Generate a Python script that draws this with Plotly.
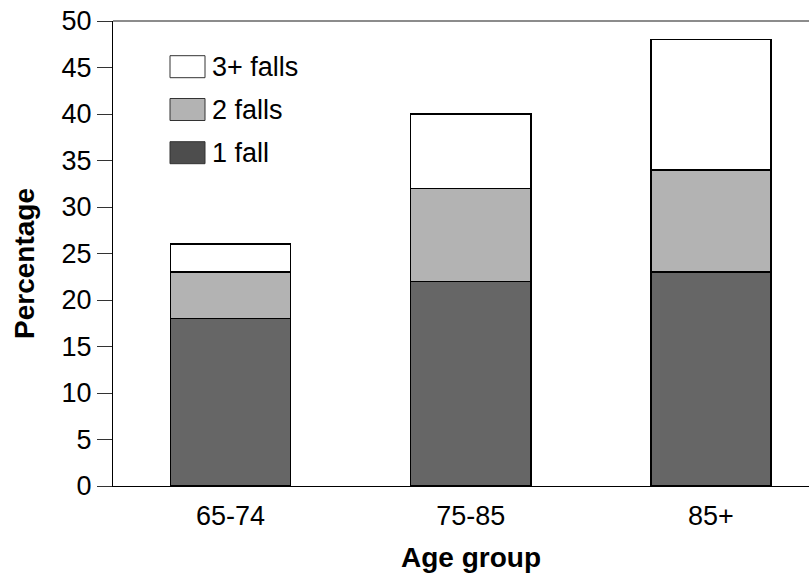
import plotly.graph_objects as go

# ---- data ----
age_groups = ["65-74", "75-85", "85+"]
one_fall = [18, 22, 23]
two_falls = [5, 10, 11]
three_plus_falls = [3, 8, 14]
series_names = ["1 fall", "2 falls", "3+ falls"]
y_ticks = [0, 5, 10, 15, 20, 25, 30, 35, 40, 45, 50]

colors = ["#666666", "#b3b3b3", "#ffffff"]
legend_colors = ["#4d4d4d", "#b3b3b3", "#ffffff"]

W, H = 809, 578
L, R, T, B = 113, 0, 21, 92
FONT = "Liberation Sans"

fig = go.Figure()
for name, vals, col in zip(series_names, [one_fall, two_falls, three_plus_falls], colors):
    fig.add_trace(go.Bar(
        x=age_groups, y=vals, name=name, width=0.5,
        marker=dict(color=col, line=dict(color="#000000", width=1.5)),
        showlegend=False,
    ))

fig.update_layout(
    width=W, height=H,
    margin=dict(l=L, r=R, t=T, b=B, pad=0),
    barmode="stack",
    plot_bgcolor="white", paper_bgcolor="white",
    font=dict(family=FONT, size=27, color="#000000"),
    xaxis=dict(
        range=[-0.489, 2.408], showline=True, linecolor="#000000", linewidth=1.2,
        ticks="", showgrid=False, zeroline=False,
        tickfont=dict(size=27), ticklabelstandoff=5,
    ),
    yaxis=dict(
        range=[0, 50], tickvals=y_ticks, showline=True, linecolor="#000000", linewidth=1.2,
        ticks="outside", ticklen=15, tickwidth=1.2, tickcolor="#333333",
        showgrid=False, zeroline=False, tickfont=dict(size=27),
    ),
)

# top border line of plot area
fig.add_shape(type="line", xref="paper", yref="paper", x0=0, x1=1, y0=1, y1=1,
              line=dict(color="#666666", width=1.5))

pw, ph = W - L - R, H - T - B
def px(xp):
    return (xp - L) / pw
def py(yp):
    return (H - B - yp) / ph

# axis titles
fig.add_annotation(xref="paper", yref="paper", x=px(471), y=py(557),
                   text="<b>Age group</b>", showarrow=False, xanchor="center", yanchor="middle",
                   font=dict(size=28, family=FONT))
fig.add_annotation(xref="paper", yref="paper", x=px(24), y=py(264), textangle=-90,
                   text="<b>Percentage</b>", showarrow=False, xanchor="center", yanchor="middle",
                   font=dict(size=28, family=FONT))

# custom legend (top-left inside plot area)
legend_rows = [("3+ falls", 2, 55.7), ("2 falls", 1, 98.5), ("1 fall", 0, 141.7)]
for label, idx, top in legend_rows:
    fig.add_shape(type="rect", xref="paper", yref="paper",
                  x0=px(170), x1=px(205), y0=py(top + 22), y1=py(top),
                  fillcolor=legend_colors[idx], line=dict(color="#333333", width=1))
    fig.add_annotation(xref="paper", yref="paper", x=px(210), y=py(top + 11),
                       text=label, showarrow=False, xanchor="left", yanchor="middle",
                       font=dict(size=27, family=FONT))

fig.write_html("out.html", config={"displayModeBar": False},
               post_script="document.body.style.margin='0';document.body.style.padding='0';")
